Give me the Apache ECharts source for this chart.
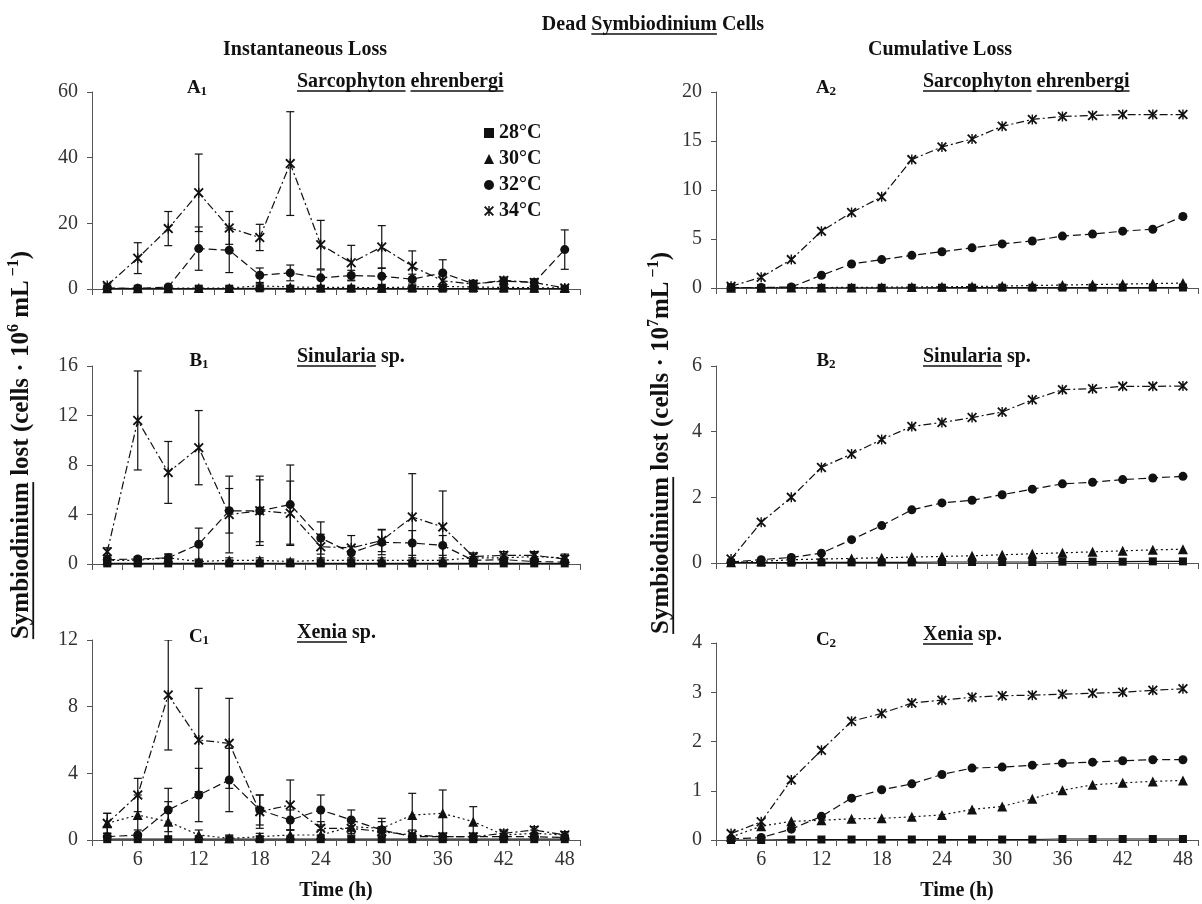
<!DOCTYPE html>
<html>
<head>
<meta charset="utf-8">
<script src="https://cdn.jsdelivr.net/npm/echarts@6/dist/echarts.min.js"></script>
<style>
  html, body { margin: 0; padding: 0; background: #fff; }
  #chart { width: 1202px; height: 904px; }
</style>
</head>
<body>
<div id="chart"></div>
<script>
// sampling times (h)
var hours = ['3', '6', '9', '12', '15', '18', '21', '24', '27', '30', '33', '36', '39', '42', '45', '48'];
var temps = ['28°C', '30°C', '32°C', '34°C'];

// A1 - Sarcophyton ehrenbergi, instantaneous loss (10^6 cells/mL)
var a1_28 = [0.1, 0.1, 0.1, 0.1, 0.1, 0.2, 0.1, 0.1, 0.1, 0.1, 0.1, 0.1, 0.1, 0.1, 0.1, 0.1];
var a1_30 = [0.2, 0.2, 0.2, 0.3, 0.3, 1.0, 0.6, 0.5, 0.5, 0.4, 0.6, 0.8, 0.6, 0.5, 0.4, 0.3];
var a1_32 = [0.3, 0.2, 0.6, 12.3, 11.8, 4.2, 4.9, 3.4, 4.1, 3.9, 3.0, 4.9, 1.6, 2.4, 2.0, 12.0];
var a1_34 = [1.1, 9.4, 18.4, 29.3, 18.6, 15.7, 38.2, 13.5, 8.0, 12.8, 6.9, 2.5, 1.5, 2.6, 2.0, 0.3];
var a1_30_err = [0.2, 0.2, 0.2, 0.3, 0.3, 0.6, 0.4, 0.4, 0.4, 0.3, 0.4, 0.5, 0.4, 0.4, 0.3, 0.2];
var a1_32_err = [0.2, 0.2, 0.4, 6.6, 6.8, 2.2, 2.4, 2.4, 1.6, 2.5, 1.5, 4.0, 0.8, 0.8, 1.0, 6.0];
var a1_34_err = [0.5, 4.7, 5.2, 11.8, 5.0, 4.0, 15.8, 7.4, 5.3, 6.5, 4.7, 1.5, 0.8, 1.0, 1.0, 0.3];

// B1 - Sinularia sp., instantaneous loss
var b1_28 = [0.05, 0.05, 0.05, 0.05, 0.05, 0.05, 0.05, 0.05, 0.05, 0.05, 0.05, 0.05, 0.05, 0.05, 0.05, 0.05];
var b1_30 = [0.3, 0.3, 0.5, 0.2, 0.3, 0.3, 0.2, 0.3, 0.3, 0.3, 0.3, 0.3, 0.5, 0.5, 0.6, 0.5];
var b1_32 = [0.35, 0.4, 0.5, 1.6, 4.3, 4.3, 4.8, 2.1, 0.9, 1.75, 1.7, 1.5, 0.3, 0.35, 0.2, 0.15];
var b1_34 = [1.0, 11.6, 7.4, 9.4, 4.0, 4.3, 4.1, 1.4, 1.3, 1.9, 3.8, 3.0, 0.6, 0.7, 0.7, 0.4];
var b1_30_err = [0.2, 0.2, 0.3, 0.2, 0.2, 0.2, 0.2, 0.2, 0.2, 0.2, 0.2, 0.2, 0.3, 0.3, 0.3, 0.3];
var b1_32_err = [0.2, 0.2, 0.3, 1.3, 1.8, 2.5, 3.2, 1.3, 0.5, 1.0, 1.0, 0.8, 0.3, 0.3, 0.2, 0.2];
var b1_34_err = [0.3, 4.0, 2.5, 3.0, 3.1, 2.8, 2.6, 1.0, 1.0, 0.9, 3.5, 2.9, 0.3, 0.3, 0.3, 0.3];

// C1 - Xenia sp., instantaneous loss
var c1_28 = [0.05, 0.05, 0.05, 0.05, 0.05, 0.05, 0.05, 0.05, 0.05, 0.05, 0.05, 0.05, 0.05, 0.05, 0.05, 0.05];
var c1_30 = [1.0, 1.5, 1.1, 0.3, 0.1, 0.2, 0.3, 0.3, 0.8, 0.7, 1.5, 1.6, 1.1, 0.3, 0.4, 0.3];
var c1_32 = [0.2, 0.3, 1.8, 2.7, 3.6, 1.8, 1.2, 1.8, 1.2, 0.6, 0.2, 0.2, 0.2, 0.2, 0.2, 0.15];
var c1_34 = [1.0, 2.7, 8.7, 6.0, 5.8, 1.7, 2.1, 0.7, 0.7, 0.5, 0.3, 0.2, 0.2, 0.4, 0.6, 0.3];
var c1_30_err = [0.6, 1.2, 1.2, 0.3, 0.2, 0.2, 0.3, 0.3, 0.4, 0.4, 1.3, 1.4, 0.9, 0.2, 0.2, 0.2];
var c1_32_err = [0.2, 0.3, 1.3, 1.6, 1.9, 0.9, 0.6, 0.9, 0.6, 0.7, 0.2, 0.2, 0.2, 0.2, 0.2, 0.2];
var c1_34_err = [0.6, 1.0, 3.3, 3.1, 2.7, 1.0, 1.5, 0.4, 0.4, 0.3, 0.3, 0.2, 0.2, 0.2, 0.2, 0.2];

// A2 - Sarcophyton ehrenbergi, cumulative loss (10^7 cells/mL)
var a2_28 = [0.01, 0.01, 0.01, 0.02, 0.02, 0.02, 0.02, 0.03, 0.03, 0.03, 0.03, 0.04, 0.04, 0.04, 0.05, 0.05];
var a2_30 = [0.02, 0.03, 0.04, 0.05, 0.06, 0.08, 0.1, 0.12, 0.15, 0.2, 0.25, 0.3, 0.35, 0.4, 0.45, 0.5];
var a2_32 = [0.05, 0.05, 0.1, 1.3, 2.45, 2.9, 3.33, 3.7, 4.1, 4.5, 4.8, 5.3, 5.5, 5.8, 6.0, 7.3];
var a2_34 = [0.17, 1.1, 2.9, 5.8, 7.7, 9.3, 13.1, 14.4, 15.2, 16.5, 17.2, 17.5, 17.6, 17.7, 17.7, 17.7];

// B2 - Sinularia sp., cumulative loss
var b2_28 = [0.01, 0.01, 0.01, 0.02, 0.02, 0.02, 0.02, 0.03, 0.03, 0.03, 0.03, 0.04, 0.04, 0.04, 0.05, 0.05];
var b2_30 = [0.02, 0.05, 0.1, 0.12, 0.14, 0.16, 0.18, 0.2, 0.22, 0.25, 0.28, 0.31, 0.34, 0.37, 0.4, 0.42];
var b2_32 = [0.03, 0.1, 0.17, 0.3, 0.71, 1.14, 1.62, 1.83, 1.91, 2.08, 2.25, 2.41, 2.46, 2.54, 2.59, 2.64];
var b2_34 = [0.12, 1.24, 2.0, 2.91, 3.32, 3.76, 4.16, 4.28, 4.43, 4.6, 4.97, 5.28, 5.31, 5.38, 5.38, 5.39];

// C2 - Xenia sp., cumulative loss
var c2_28 = [0.0, 0.0, 0.01, 0.01, 0.01, 0.01, 0.01, 0.01, 0.01, 0.01, 0.01, 0.02, 0.02, 0.02, 0.02, 0.02];
var c2_30 = [0.06, 0.28, 0.38, 0.4, 0.43, 0.44, 0.47, 0.51, 0.62, 0.68, 0.84, 1.01, 1.12, 1.16, 1.19, 1.21];
var c2_32 = [0.02, 0.05, 0.22, 0.48, 0.85, 1.02, 1.14, 1.33, 1.46, 1.48, 1.52, 1.56, 1.58, 1.61, 1.63, 1.63];
var c2_34 = [0.13, 0.37, 1.22, 1.82, 2.41, 2.57, 2.78, 2.84, 2.9, 2.93, 2.94, 2.96, 2.98, 3.0, 3.04, 3.07];

var FONT = '"Liberation Serif", "Times New Roman", serif';
var INK = '#111';
var star = 'path://M4.3,0H5.7V10H4.3Z M0,1.3L1.3,0L10,8.7L8.7,10Z M8.7,0L10,1.3L1.3,10L0,8.7Z';
var symbols = ['rect', 'triangle', 'circle', star];
var symbolSizes = [8, 10, 9, 10];
var dashes = ['solid', [2, 3], [8, 4], [8, 3, 2, 3]];

var panels = [
  { grid: { left: 92, top: 92, width: 488, height: 197 }, max: 60, step: 20, lines: [a1_28, a1_30, a1_32, a1_34], errs: [null, a1_30_err, a1_32_err, a1_34_err], labels: false },
  { grid: { left: 92, top: 366, width: 488, height: 198 }, max: 16, step: 4, lines: [b1_28, b1_30, b1_32, b1_34], errs: [null, b1_30_err, b1_32_err, b1_34_err], labels: false },
  { grid: { left: 92, top: 640, width: 488, height: 200 }, max: 12, step: 4, lines: [c1_28, c1_30, c1_32, c1_34], errs: [null, c1_30_err, c1_32_err, c1_34_err], labels: true },
  { grid: { left: 716, top: 92, width: 482, height: 196 }, max: 20, step: 5, lines: [a2_28, a2_30, a2_32, a2_34], errs: [], labels: false },
  { grid: { left: 716, top: 366, width: 482, height: 197 }, max: 6, step: 2, lines: [b2_28, b2_30, b2_32, b2_34], errs: [], labels: false },
  { grid: { left: 716, top: 643, width: 482, height: 197 }, max: 4, step: 1, lines: [c2_28, c2_30, c2_32, c2_34], errs: [], labels: true }
];

function errorBars (params, api) {
  var lo = api.coord([api.value(0), api.value(1)]);
  var hi = api.coord([api.value(0), api.value(2)]);
  var w = 4;
  var st = { stroke: INK, lineWidth: 1.2 };
  return {
    type: 'group',
    children: [
      { type: 'line', shape: { x1: hi[0], y1: hi[1], x2: lo[0], y2: lo[1] }, style: st },
      { type: 'line', shape: { x1: hi[0] - w, y1: hi[1], x2: hi[0] + w, y2: hi[1] }, style: st },
      { type: 'line', shape: { x1: lo[0] - w, y1: lo[1], x2: lo[0] + w, y2: lo[1] }, style: st }
    ]
  };
}

var grids = [], xAxes = [], yAxes = [], series = [], bars = [];
panels.forEach(function (p, i) {
  grids.push(p.grid);
  xAxes.push({
    gridIndex: i,
    type: 'category',
    data: hours,
    boundaryGap: true,
    axisLine: { show: true, lineStyle: { color: '#555', width: 1 } },
    axisTick: { show: true, interval: 0, length: 6, lineStyle: { color: '#555' } },
    axisLabel: {
      show: p.labels,
      interval: function (idx) { return idx % 2 === 1 },
      margin: 10,
      fontFamily: FONT,
      fontSize: 20,
      color: '#333'
    },
    splitLine: { show: false }
  });
  yAxes.push({
    gridIndex: i,
    type: 'value',
    min: 0,
    max: p.max,
    interval: p.step,
    axisLine: { show: true, lineStyle: { color: '#555', width: 1 } },
    axisTick: { show: true, length: 5, lineStyle: { color: '#555' } },
    axisLabel: { margin: 14, fontFamily: FONT, fontSize: 20, color: '#333' },
    splitLine: { show: false }
  });
  p.lines.forEach(function (vals, j) {
    var err = p.errs[j];
    if (err) {
      bars.push({
        type: 'custom',
        name: temps[j],
        xAxisIndex: i,
        yAxisIndex: i,
        renderItem: errorBars,
        clip: true,
        itemStyle: { color: INK },
        z: 2,
        data: vals.map(function (v, k) { return [k, v - err[k], v + err[k]] })
      });
    }
    series.push({
      type: 'line',
      name: temps[j],
      xAxisIndex: i,
      yAxisIndex: i,
      data: vals,
      symbol: symbols[j],
      symbolSize: symbolSizes[j],
      showAllSymbol: true,
      lineStyle: { color: INK, width: 1.2, type: dashes[j] },
      itemStyle: { color: INK },
      z: 3 + j
    });
  });
});

// text layout helper: runs of text with optional underline / sub / superscript
var measure = document.createElement('canvas').getContext('2d');
function fontOf (r) {
  return (r.bold === false ? '' : 'bold ') + r.size + 'px ' + FONT;
}
function textRun (parts, x, y, align, rotation) {
  var widths = parts.map(function (r) {
    measure.font = fontOf(r);
    return measure.measureText(r.t).width;
  });
  var total = widths.reduce(function (a, b) { return a + b }, 0);
  var cx = align === 'center' ? -total / 2 : 0;
  var children = [];
  parts.forEach(function (r, k) {
    children.push({
      type: 'text',
      x: cx,
      y: r.dy || 0,
      style: { text: r.t, font: fontOf(r), fill: INK, textAlign: 'left', textVerticalAlign: 'middle' }
    });
    if (r.u) {
      var uy = (r.dy || 0) + r.size * 0.45;
      children.push({
        type: 'line',
        shape: { x1: cx, y1: uy, x2: cx + widths[k], y2: uy },
        style: { stroke: INK, lineWidth: Math.max(1.2, r.size / 14) }
      });
    }
    cx += widths[k];
  });
  return { type: 'group', x: x, y: y, rotation: rotation || 0, children: children };
}

function panelTag (letter, num, x, y) {
  return textRun([{ t: letter, size: 19 }, { t: num, size: 13, dy: 4 }], x, y, 'center');
}

var T = 20;
var graphics = [
  textRun([{ t: 'Dead ', size: T }, { t: 'Symbiodinium', size: T, u: true }, { t: ' Cells', size: T }], 653, 25, 'center'),
  textRun([{ t: 'Instantaneous Loss', size: T }], 305, 50, 'center'),
  textRun([{ t: 'Cumulative Loss', size: T }], 940, 50, 'center'),

  panelTag('A', '1', 197, 88),
  panelTag('B', '1', 199, 361),
  panelTag('C', '1', 199, 637),
  panelTag('A', '2', 826, 88),
  panelTag('B', '2', 826, 361),
  panelTag('C', '2', 826, 640),

  textRun([{ t: 'Sarcophyton', size: T, u: true }, { t: ' ', size: T }, { t: 'ehrenbergi', size: T, u: true }], 297, 82, 'left'),
  textRun([{ t: 'Sinularia', size: T, u: true }, { t: ' sp.', size: T }], 297, 357, 'left'),
  textRun([{ t: 'Xenia', size: T, u: true }, { t: ' sp.', size: T }], 297, 633, 'left'),
  textRun([{ t: 'Sarcophyton', size: T, u: true }, { t: ' ', size: T }, { t: 'ehrenbergi', size: T, u: true }], 923, 82, 'left'),
  textRun([{ t: 'Sinularia', size: T, u: true }, { t: ' sp.', size: T }], 923, 357, 'left'),
  textRun([{ t: 'Xenia', size: T, u: true }, { t: ' sp.', size: T }], 923, 635, 'left'),

  textRun([{ t: 'Time (h)', size: T }], 336, 891, 'center'),
  textRun([{ t: 'Time (h)', size: T }], 957, 891, 'center'),

  textRun([
    { t: 'Symbiodinium', size: 25, u: true }, { t: ' lost (cells · ', size: 25 }, { t: '10', size: 25 },
    { t: '6', size: 16, dy: -8 }, { t: ' mL', size: 25 }, { t: ' −1', size: 16, dy: -8 }, { t: ')', size: 25 }
  ], 22, 445, 'center', Math.PI / 2),
  textRun([
    { t: 'Symbiodinium', size: 25, u: true }, { t: ' lost (cells · ', size: 25 }, { t: '10', size: 25 },
    { t: '7', size: 16, dy: -8 }, { t: 'mL', size: 25 }, { t: ' −1', size: 16, dy: -8 }, { t: ')', size: 25 }
  ], 662, 443, 'center', Math.PI / 2)
];

var chart = echarts.init(document.getElementById('chart'), null, { renderer: 'canvas' });
chart.setOption({
  animation: false,
  backgroundColor: '#fff',
  grid: grids,
  xAxis: xAxes,
  yAxis: yAxes,
  legend: {
    orient: 'vertical',
    left: 479,
    top: 118,
    itemWidth: 10,
    itemHeight: 10,
    itemGap: 6,
    selectedMode: false,
    textStyle: { fontFamily: FONT, fontWeight: 'bold', fontSize: 20, color: INK },
    data: [
      { name: '28°C', icon: 'rect', itemStyle: { color: INK } },
      { name: '30°C', icon: 'triangle', itemStyle: { color: INK } },
      { name: '32°C', icon: 'circle', itemStyle: { color: INK } },
      { name: '34°C', icon: star, itemStyle: { color: INK } }
    ]
  },
  series: series.concat(bars),
  graphic: graphics
});
</script>
</body>
</html>
